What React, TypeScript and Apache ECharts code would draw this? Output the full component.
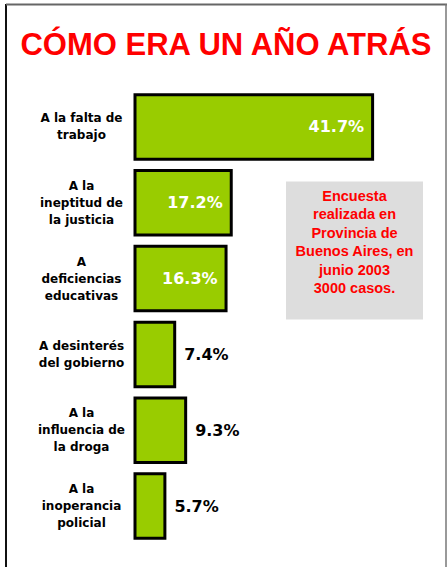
import React, { useEffect, useRef } from "react";
import * as echarts from "echarts";

const title = "CÓMO ERA UN AÑO ATRÁS";
const categories = [
  "A la falta de\ntrabajo",
  "A la\nineptitud de\nla justicia",
  "A\ndeficiencias\neducativas",
  "A desinterés\ndel gobierno",
  "A la\ninfluencia de\nla droga",
  "A la\ninoperancia\npolicial",
];
const values = [41.7, 17.2, 16.3, 7.4, 9.3, 5.7];
const noteLines = [
  "Encuesta",
  "realizada en",
  "Provincia de",
  "Buenos Aires, en",
  "junio 2003",
  "3000 casos.",
];

export default function App() {
  const ref = useRef<HTMLDivElement>(null);
  useEffect(() => {
    document.body.style.margin = "0";
    const chart = echarts.init(ref.current!, null, { renderer: "svg" });
    const data = values.map((v) => {
      const inside = v >= 15;
      return {
        value: v,
        label: {
          show: true,
          position: inside ? "insideRight" : "right",
          distance: inside ? 10 : 8,
          color: inside ? "#ffffff" : "#000000",
          formatter: (p: any) => p.value.toFixed(1) + "%",
          fontFamily: "DejaVu Sans",
          fontWeight: "bold",
          fontSize: 16,
        },
      };
    });
    chart.setOption({
      animation: false,
      backgroundColor: "#ffffff",
      grid: { left: 133.5, right: 25, top: 89, bottom: 23 },
      xAxis: { type: "value", min: 0, max: 50, show: false },
      yAxis: {
        type: "category",
        data: categories,
        inverse: true,
        axisLine: { show: false },
        axisTick: { show: false },
        axisLabel: {
          align: "center",
          margin: 52,
          color: "#000000",
          fontFamily: "DejaVu Sans",
          fontWeight: "bold",
          fontSize: 12,
          lineHeight: 17,
        },
      },
      series: [
        {
          type: "bar",
          data,
          barCategoryGap: "11%",
          itemStyle: { color: "#99cc00", borderColor: "#000000", borderWidth: 3 },
        },
      ],
      graphic: [
        { type: "line", shape: { x1: 6, y1: 4, x2: 6, y2: 567 }, style: { stroke: "#111111", lineWidth: 2 } },
        { type: "line", shape: { x1: 6, y1: 4.5, x2: 447, y2: 4.5 }, style: { stroke: "#666666", lineWidth: 2 } },
        { type: "line", shape: { x1: 446, y1: 4, x2: 446, y2: 567 }, style: { stroke: "#777777", lineWidth: 1.5 } },
        {
          type: "text",
          x: 226,
          y: 44,
          style: {
            text: title,
            fill: "#ff0000",
            font: "bold 31px 'Liberation Sans', Arial, sans-serif",
            textAlign: "center",
            textVerticalAlign: "middle",
          },
        },
        {
          type: "rect",
          shape: { x: 286, y: 181.5, width: 137, height: 138 },
          style: { fill: "#dddddd" },
        },
        {
          type: "text",
          x: 354.5,
          y: 242,
          style: {
            text: noteLines.join("\n"),
            fill: "#ff0000",
            font: "bold 14.5px 'Liberation Sans', Arial, sans-serif",
            lineHeight: 18.5,
            textAlign: "center",
            textVerticalAlign: "middle",
          },
        },
      ],
    });
    return () => chart.dispose();
  }, []);
  return <div ref={ref} style={{ width: 447, height: 567 }} />;
}
